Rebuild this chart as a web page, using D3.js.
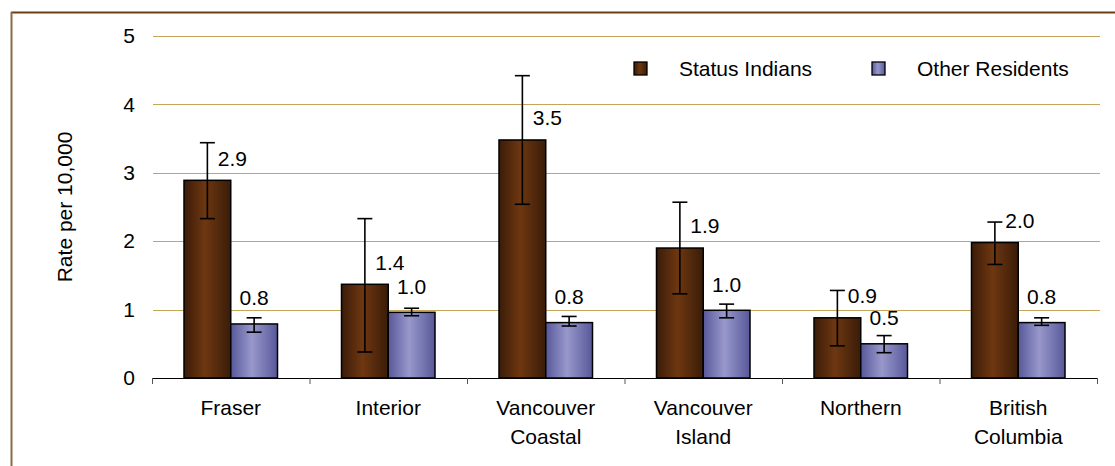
<!DOCTYPE html>
<html>
<head>
<meta charset="utf-8">
<script src="https://cdn.jsdelivr.net/npm/d3@7"></script>
<style>
  html, body { margin: 0; padding: 0; background: #fff; }
  svg { display: block; }
  text { font-family: "Liberation Sans", Arial, sans-serif; fill: #000; }
</style>
</head>
<body>
<svg id="chart" width="1115" height="466"></svg>
<script>
// ---- data ----
const categories = ["Fraser", "Interior", "Vancouver Coastal", "Vancouver Island", "Northern", "British Columbia"];
const categoryLines = [["Fraser"], ["Interior"], ["Vancouver", "Coastal"], ["Vancouver", "Island"], ["Northern"], ["British", "Columbia"]];
const seriesNames = ["Status Indians", "Other Residents"];
const statusIndians = [2.89, 1.37, 3.48, 1.90, 0.88, 1.98];
const statusIndiansLow = [2.33, 0.38, 2.54, 1.23, 0.47, 1.66];
const statusIndiansHigh = [3.44, 2.33, 4.42, 2.57, 1.28, 2.28];
const otherResidents = [0.79, 0.96, 0.81, 0.99, 0.50, 0.81];
const otherResidentsLow = [0.67, 0.91, 0.76, 0.88, 0.37, 0.77];
const otherResidentsHigh = [0.88, 1.02, 0.90, 1.08, 0.62, 0.88];
const statusLabels = ["2.9", "1.4", "3.5", "1.9", "0.9", "2.0"];
const otherLabels = ["0.8", "1.0", "0.8", "1.0", "0.5", "0.8"];
const yTicks = [0, 1, 2, 3, 4, 5];

// ---- layout ----
const svg = d3.select("#chart");
const plot = { left: 152, right: 1097, top: 36, bottom: 378 };
const FONT = 21;

const x0 = d3.scaleBand().domain(categories).range([plot.left, plot.right]).paddingInner(0).paddingOuter(0);
const x1 = d3.scaleBand().domain(seriesNames).range([32, x0.bandwidth() - 32]).padding(0);
const y = d3.scaleLinear().domain([0, 5]).range([plot.bottom, plot.top]);

// gradients
const defs = svg.append("defs");
function grad(id, edge, mid) {
  const g = defs.append("linearGradient").attr("id", id).attr("x1", "0%").attr("x2", "100%").attr("y1", "0%").attr("y2", "0%");
  g.append("stop").attr("offset", "0%").attr("stop-color", edge);
  g.append("stop").attr("offset", "45%").attr("stop-color", mid);
  g.append("stop").attr("offset", "100%").attr("stop-color", edge);
}
grad("gSI", "#3a1c08", "#6e3711");
grad("gOR", "#58589a", "#9898cc");
const fills = { "Status Indians": "url(#gSI)", "Other Residents": "url(#gOR)" };

// outer frame (top & left visible)
svg.append("line").attr("x1", 11).attr("x2", 1115).attr("y1", 12.5).attr("y2", 12.5)
  .attr("stroke", "#6b3e14").attr("stroke-width", 2);
svg.append("line").attr("x1", 11.5).attr("x2", 11.5).attr("y1", 12).attr("y2", 466)
  .attr("stroke", "#8c6a4a").attr("stroke-width", 2);

// gridlines
svg.append("g").selectAll("line").data(yTicks.filter(d => d > 0)).join("line")
  .attr("x1", plot.left + 1).attr("x2", plot.right + 3)
  .attr("y1", d => Math.round(y(d)) + 0.5).attr("y2", d => Math.round(y(d)) + 0.5)
  .attr("stroke", "#c4a55c").attr("stroke-width", 1.2);

// y axis labels
const yAxis = d3.axisLeft(y).tickValues(yTicks).tickSize(0).tickPadding(0).tickFormat(d3.format("d"));
const ya = svg.append("g").attr("transform", `translate(${plot.left - 17},0)`).call(yAxis);
ya.select(".domain").remove();
ya.selectAll("text").style("font-size", FONT + "px").style("font-family", "Liberation Sans, Arial, sans-serif");

// y title
svg.append("text").attr("transform", `translate(65,${(plot.top + plot.bottom) / 2}) rotate(-90)`)
  .attr("text-anchor", "middle").attr("dy", "0.35em").style("font-size", FONT + "px").text("Rate per 10,000");

// series data
const rows = categories.map((c, i) => ({
  cat: c,
  vals: [
    { s: seriesNames[0], v: statusIndians[i], lo: statusIndiansLow[i], hi: statusIndiansHigh[i], label: statusLabels[i] },
    { s: seriesNames[1], v: otherResidents[i], lo: otherResidentsLow[i], hi: otherResidentsHigh[i], label: otherLabels[i] }
  ]
}));

const groups = svg.append("g").selectAll("g").data(rows).join("g")
  .attr("transform", d => `translate(${x0(d.cat)},0)`);

groups.selectAll("rect").data(d => d.vals).join("rect")
  .attr("x", d => x1(d.s)).attr("width", x1.bandwidth())
  .attr("y", d => y(d.v)).attr("height", d => y(0) - y(d.v))
  .attr("fill", d => fills[d.s]).attr("stroke", "#000").attr("stroke-width", 1.5);

// error bars
const cap = 7.5;
groups.each(function (d) {
  const g = d3.select(this);
  d.vals.forEach(v => {
    const cx = x1(v.s) + x1.bandwidth() / 2;
    g.append("line").attr("x1", cx).attr("x2", cx).attr("y1", y(v.hi)).attr("y2", y(v.lo)).attr("stroke", "#000").attr("stroke-width", 1.6);
    [v.hi, v.lo].forEach(e => g.append("line").attr("x1", cx - cap).attr("x2", cx + cap).attr("y1", y(e)).attr("y2", y(e)).attr("stroke", "#000").attr("stroke-width", 1.6));
  });
});

// value labels
groups.each(function (d) {
  const g = d3.select(this);
  d.vals.forEach((v, j) => {
    const cx = x1(v.s) + x1.bandwidth() / 2;
    const isSI = j === 0;
    g.append("text")
      .attr("x", cx + (isSI ? 25 : 0))
      .attr("y", y(v.v) - (isSI ? 22 : 26))
      .attr("dy", "0.35em").attr("text-anchor", "middle")
      .style("font-size", FONT + "px").text(v.label);
  });
});

// x axis
svg.append("line").attr("x1", plot.left).attr("x2", plot.right).attr("y1", plot.bottom + 0.5).attr("y2", plot.bottom + 0.5)
  .attr("stroke", "#000").attr("stroke-width", 1.2);
const edges = categories.map(c => x0(c)).concat([plot.right]);
svg.append("g").selectAll("line").data(edges).join("line")
  .attr("x1", d => d + 0.5).attr("x2", d => d + 0.5).attr("y1", plot.bottom).attr("y2", plot.bottom + 6)
  .attr("stroke", "#555").attr("stroke-width", 1);

// category labels
svg.append("g").selectAll("text").data(categories).join("text")
  .attr("x", d => x0(d) + x0.bandwidth() / 2)
  .attr("y", 415)
  .attr("text-anchor", "middle").style("font-size", FONT + "px")
  .each(function (d, i) {
    const t = d3.select(this);
    categoryLines[i].forEach((ln, k) => t.append("tspan").attr("x", x0(d) + x0.bandwidth() / 2).attr("dy", k === 0 ? 0 : 29).text(ln));
  });

// legend
const legend = svg.append("g");
const legendX = [634, 872];
seriesNames.forEach((s, i) => {
  legend.append("rect").attr("x", legendX[i]).attr("y", 62).attr("width", 13).attr("height", 13)
    .attr("fill", fills[s]).attr("stroke", "#000").attr("stroke-width", 1.3);
  legend.append("text").attr("x", legendX[i] + 45).attr("y", 68.5).attr("dy", "0.35em")
    .style("font-size", FONT + "px").text(s);
});
</script>
</body>
</html>
